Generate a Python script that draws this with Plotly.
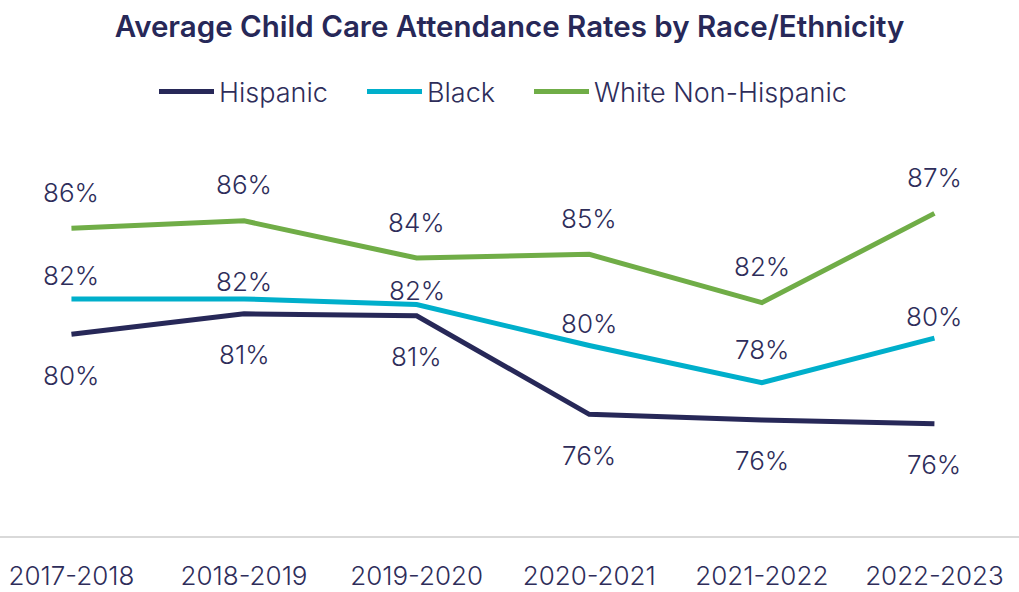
import plotly.graph_objects as go

years = ["2017-2018", "2018-2019", "2019-2020", "2020-2021", "2021-2022", "2022-2023"]
hispanic = [80.3, 81.4, 81.3, 76.0, 75.7, 75.5]
black = [82.2, 82.2, 81.9, 79.7, 77.7, 80.1]
white = [86.0, 86.4, 84.4, 84.6, 82.0, 86.8]

series_names = ["Hispanic", "Black", "White Non-Hispanic"]
colors = ["#272858", "#00AFCB", "#70AD47"]
label_shift = [[-41, -41, -41, -41, -41, -41],
               [23, 17, 14, 22, 33, 22],
               [36, 36, 36, 36, 36, 36]]
legend_ids = ["legend", "legend2", "legend3"]
legend_x = [154, 362, 529]

FONT = "Inter"
TEXT = "#2E2D5A"
W, H = 1019, 592

fig = go.Figure()
annotations = []
for name, vals, col, shifts, lid in zip(series_names, [hispanic, black, white], colors,
                                        label_shift, legend_ids):
    fig.add_trace(go.Scatter(
        x=list(range(len(years))), y=vals, mode="lines", name=name, legend=lid,
        showlegend=True, line=dict(color=col, width=5), hoverinfo="skip"))
    for i, v in enumerate(vals):
        annotations.append(dict(
            x=i, y=v, xref="x", yref="y", text=f"{round(v)}%", showarrow=False,
            yshift=shifts[i], font=dict(family=FONT, size=26, color=TEXT, weight=300)))

legends = {}
for lid, lx in zip(legend_ids, legend_x):
    legends[lid] = dict(orientation="h", x=lx / W, xanchor="left", xref="container",
                        y=1 - 92 / H, yanchor="middle", yref="container",
                        font=dict(family=FONT, size=27, color=TEXT, weight=300),
                        itemwidth=55, borderwidth=0, bgcolor="rgba(0,0,0,0)")

fig.update_layout(
    width=W, height=H, showlegend=True,
    margin=dict(l=0, r=0, t=120, b=56, autoexpand=False),
    paper_bgcolor="white", plot_bgcolor="white",
    title=dict(text="Average Child Care Attendance Rates by Race/Ethnicity",
               x=0.5, xanchor="center", y=1 - 27 / H, yanchor="middle",
               font=dict(family=FONT, size=29.5, color="#272858", weight=600)),
    annotations=annotations,
    xaxis=dict(range=[-0.414, 5.49], tickmode="array", automargin=False,
               tickvals=list(range(len(years))), ticktext=years,
               showgrid=False, zeroline=False, showline=True,
               linecolor="#D9D9D9", linewidth=2, ticks="",
               ticklabelstandoff=16,
               tickfont=dict(family=FONT, size=26, color=TEXT, weight=300)),
    yaxis=dict(range=[69.46, 91.82], visible=False, showgrid=False, zeroline=False,
               automargin=False),
    **legends,
)

fig.write_html("out.html", config={"displayModeBar": False},
               post_script="document.body.style.margin='0px';")
